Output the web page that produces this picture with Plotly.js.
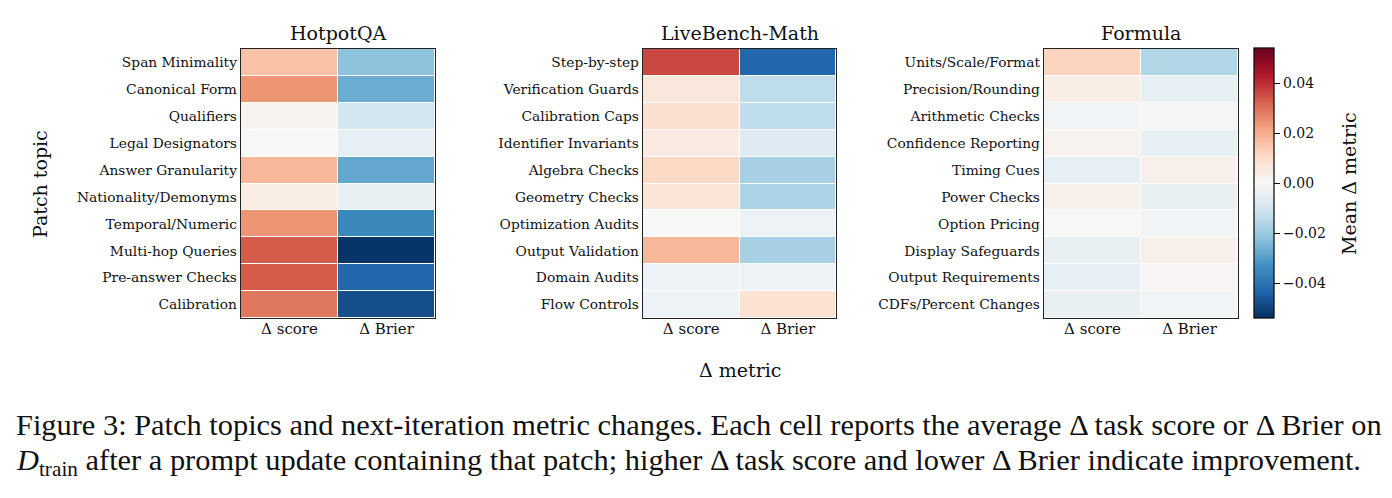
<!DOCTYPE html>
<html>
<head>
<meta charset="utf-8">
<script src="https://cdn.plot.ly/plotly-3.0.1.min.js"></script>
<style>
  html, body { margin: 0; padding: 0; background: #fff; }
  #chart { width: 1392px; height: 498px; }
</style>
</head>
<body>
<div id="chart"></div>
<script>
// Metric columns shared by all three panels
const metrics = ["\u0394 score", "\u0394 Brier"];

// HotpotQA patch topics and mean deltas
const hotpotTopics = ["Span Minimality", "Canonical Form", "Qualifiers", "Legal Designators",
  "Answer Granularity", "Nationality/Demonyms", "Temporal/Numeric", "Multi-hop Queries",
  "Pre-answer Checks", "Calibration"];
const hotpotScore = [0.016, 0.024, 0.002, 0.000, 0.018, 0.004, 0.024, 0.033, 0.033, 0.029];
const hotpotBrier = [-0.022, -0.027, -0.010, -0.005, -0.028, -0.004, -0.035, -0.053, -0.043, -0.048];

// LiveBench-Math patch topics and mean deltas
const mathTopics = ["Step-by-step", "Verification Guards", "Calibration Caps", "Identifier Invariants",
  "Algebra Checks", "Geometry Checks", "Optimization Audits", "Output Validation",
  "Domain Audits", "Flow Controls"];
const mathScore = [0.036, 0.006, 0.009, 0.005, 0.011, 0.007, 0.000, 0.018, -0.003, -0.003];
const mathBrier = [-0.043, -0.014, -0.014, -0.007, -0.018, -0.017, -0.003, -0.018, -0.003, 0.008];

// Formula patch topics and mean deltas
const formulaTopics = ["Units/Scale/Format", "Precision/Rounding", "Arithmetic Checks",
  "Confidence Reporting", "Timing Cues", "Power Checks", "Option Pricing",
  "Display Safeguards", "Output Requirements", "CDFs/Percent Changes"];
const formulaScore = [0.012, 0.004, -0.002, 0.002, -0.005, 0.003, 0.000, -0.004, -0.005, -0.004];
const formulaBrier = [-0.016, -0.005, -0.001, -0.005, 0.003, -0.004, -0.002, 0.003, 0.001, -0.002];

// Panel titles
const panelTitles = ["HotpotQA", "LiveBench-Math", "Formula"];

// Colour limits and diverging scale (blue negative, red positive)
const zMax = 0.054;
const rdbu = [
  [0.0, "#053061"], [0.1, "#2166ac"], [0.2, "#4393c3"], [0.3, "#92c5de"],
  [0.4, "#d1e5f0"], [0.5, "#f7f7f7"], [0.6, "#fddbc7"], [0.7, "#f4a582"],
  [0.8, "#d6604d"], [0.9, "#b2182b"], [1.0, "#67001f"]
];

const serif = "DejaVu Serif";

function panel(topics, score, brier, idx, showScale) {
  const z = topics.map((_, i) => [score[i], brier[i]]);
  const suffix = idx === 0 ? "" : String(idx + 1);
  const tr = {
    type: "heatmap",
    x: metrics,
    y: topics,
    z: z,
    xaxis: "x" + suffix,
    yaxis: "y" + suffix,
    colorscale: rdbu,
    zmin: -zMax,
    zmax: zMax,
    xgap: 1,
    ygap: 1,
    showscale: showScale
  };
  if (showScale) {
    tr.colorbar = {
      x: 1254 / 1392, xanchor: "left", xref: "paper",
      y: 1 - 318 / 498, yanchor: "bottom",
      len: 270 / 498, lenmode: "fraction",
      thickness: 20, thicknessmode: "pixels",
      outlinewidth: 1.3, outlinecolor: "#111",
      tickvals: [-0.04, -0.02, 0, 0.02, 0.04],
      ticktext: ["\u22120.04", "\u22120.02", "0.00", "0.02", "0.04"],
      ticks: "outside", ticklen: 6, tickwidth: 1, tickcolor: "#111",
      tickfont: { family: serif, size: 14, color: "#111" },
      xpad: 0, ypad: 0
    };
  }
  return tr;
}

const data = [
  panel(hotpotTopics, hotpotScore, hotpotBrier, 0, false),
  panel(mathTopics, mathScore, mathBrier, 1, false),
  panel(formulaTopics, formulaScore, formulaBrier, 2, true)
];

const yDom = [1 - 318 / 498, 1 - 49 / 498];
const xDoms = [[241 / 1392, 435 / 1392], [643 / 1392, 836 / 1392], [1044 / 1392, 1238 / 1392]];

function xAxis(dom, anchor) {
  return {
    domain: dom, anchor: anchor,
    showline: true, mirror: true, linecolor: "#222", linewidth: 1.3,
    ticks: "", showgrid: false, zeroline: false, fixedrange: true,
    ticklabelstandoff: -3,
    tickfont: { family: serif, size: 15, color: "#111" }
  };
}
function yAxis(anchor) {
  return {
    domain: yDom, anchor: anchor, autorange: "reversed",
    showline: true, mirror: true, linecolor: "#222", linewidth: 1.3,
    ticks: "", showgrid: false, zeroline: false, fixedrange: true,
    ticklabelstandoff: 0,
    tickfont: { family: serif, size: 13.8, color: "#111" }
  };
}

const centers = xDoms.map(d => (d[0] + d[1]) / 2);
const annotations = panelTitles.map((t, i) => ({
  text: t, x: centers[i], y: 1 - 33 / 498, xref: "paper", yref: "paper",
  xanchor: "center", yanchor: "middle", showarrow: false,
  font: { family: serif, size: 19, color: "#111" }
}));

annotations.push({
  text: "Patch topic", x: 40 / 1392, y: 1 - 184 / 498, xref: "paper", yref: "paper",
  xanchor: "center", yanchor: "middle", textangle: -90, showarrow: false,
  font: { family: serif, size: 19, color: "#111" }
});
annotations.push({
  text: "\u0394 metric", x: 740 / 1392, y: 1 - 370 / 498, xref: "paper", yref: "paper",
  xanchor: "center", yanchor: "middle", showarrow: false,
  font: { family: serif, size: 19, color: "#111" }
});
// Colour bar label
annotations.push({
  text: "Mean \u0394 metric", x: 1349 / 1392, y: 1 - 184 / 498, xref: "paper", yref: "paper",
  xanchor: "center", yanchor: "middle", textangle: -90, showarrow: false,
  font: { family: serif, size: 19, color: "#111" }
});

// Figure caption
const capFont = { family: "Liberation Serif", size: 30.4, color: "#111" };
annotations.push({
  text: "Figure 3: Patch topics and next-iteration metric changes. Each cell reports the average \u0394 task score or \u0394 Brier on",
  x: 14 / 1392, y: 1 - 425 / 498, xref: "paper", yref: "paper",
  xanchor: "left", yanchor: "middle", showarrow: false, font: capFont
});
annotations.push({
  text: "<i>D</i><sub>train</sub> after a prompt update containing that patch; higher \u0394 task score and lower \u0394 Brier indicate improvement.",
  x: 14 / 1392, y: 1 - 462 / 498, xref: "paper", yref: "paper",
  xanchor: "left", yanchor: "middle", showarrow: false, font: capFont
});

const layout = {
  width: 1392, height: 498,
  margin: { l: 0, r: 0, t: 0, b: 0 },
  paper_bgcolor: "#fff", plot_bgcolor: "#fff",
  font: { family: serif, size: 14, color: "#111" },
  showlegend: false,
  xaxis: xAxis(xDoms[0], "y"), yaxis: yAxis("x"),
  xaxis2: xAxis(xDoms[1], "y2"), yaxis2: yAxis("x2"),
  xaxis3: xAxis(xDoms[2], "y3"), yaxis3: yAxis("x3"),
  annotations: annotations
};

Plotly.newPlot("chart", data, layout, { displayModeBar: false, staticPlot: true });
</script>
</body>
</html>
